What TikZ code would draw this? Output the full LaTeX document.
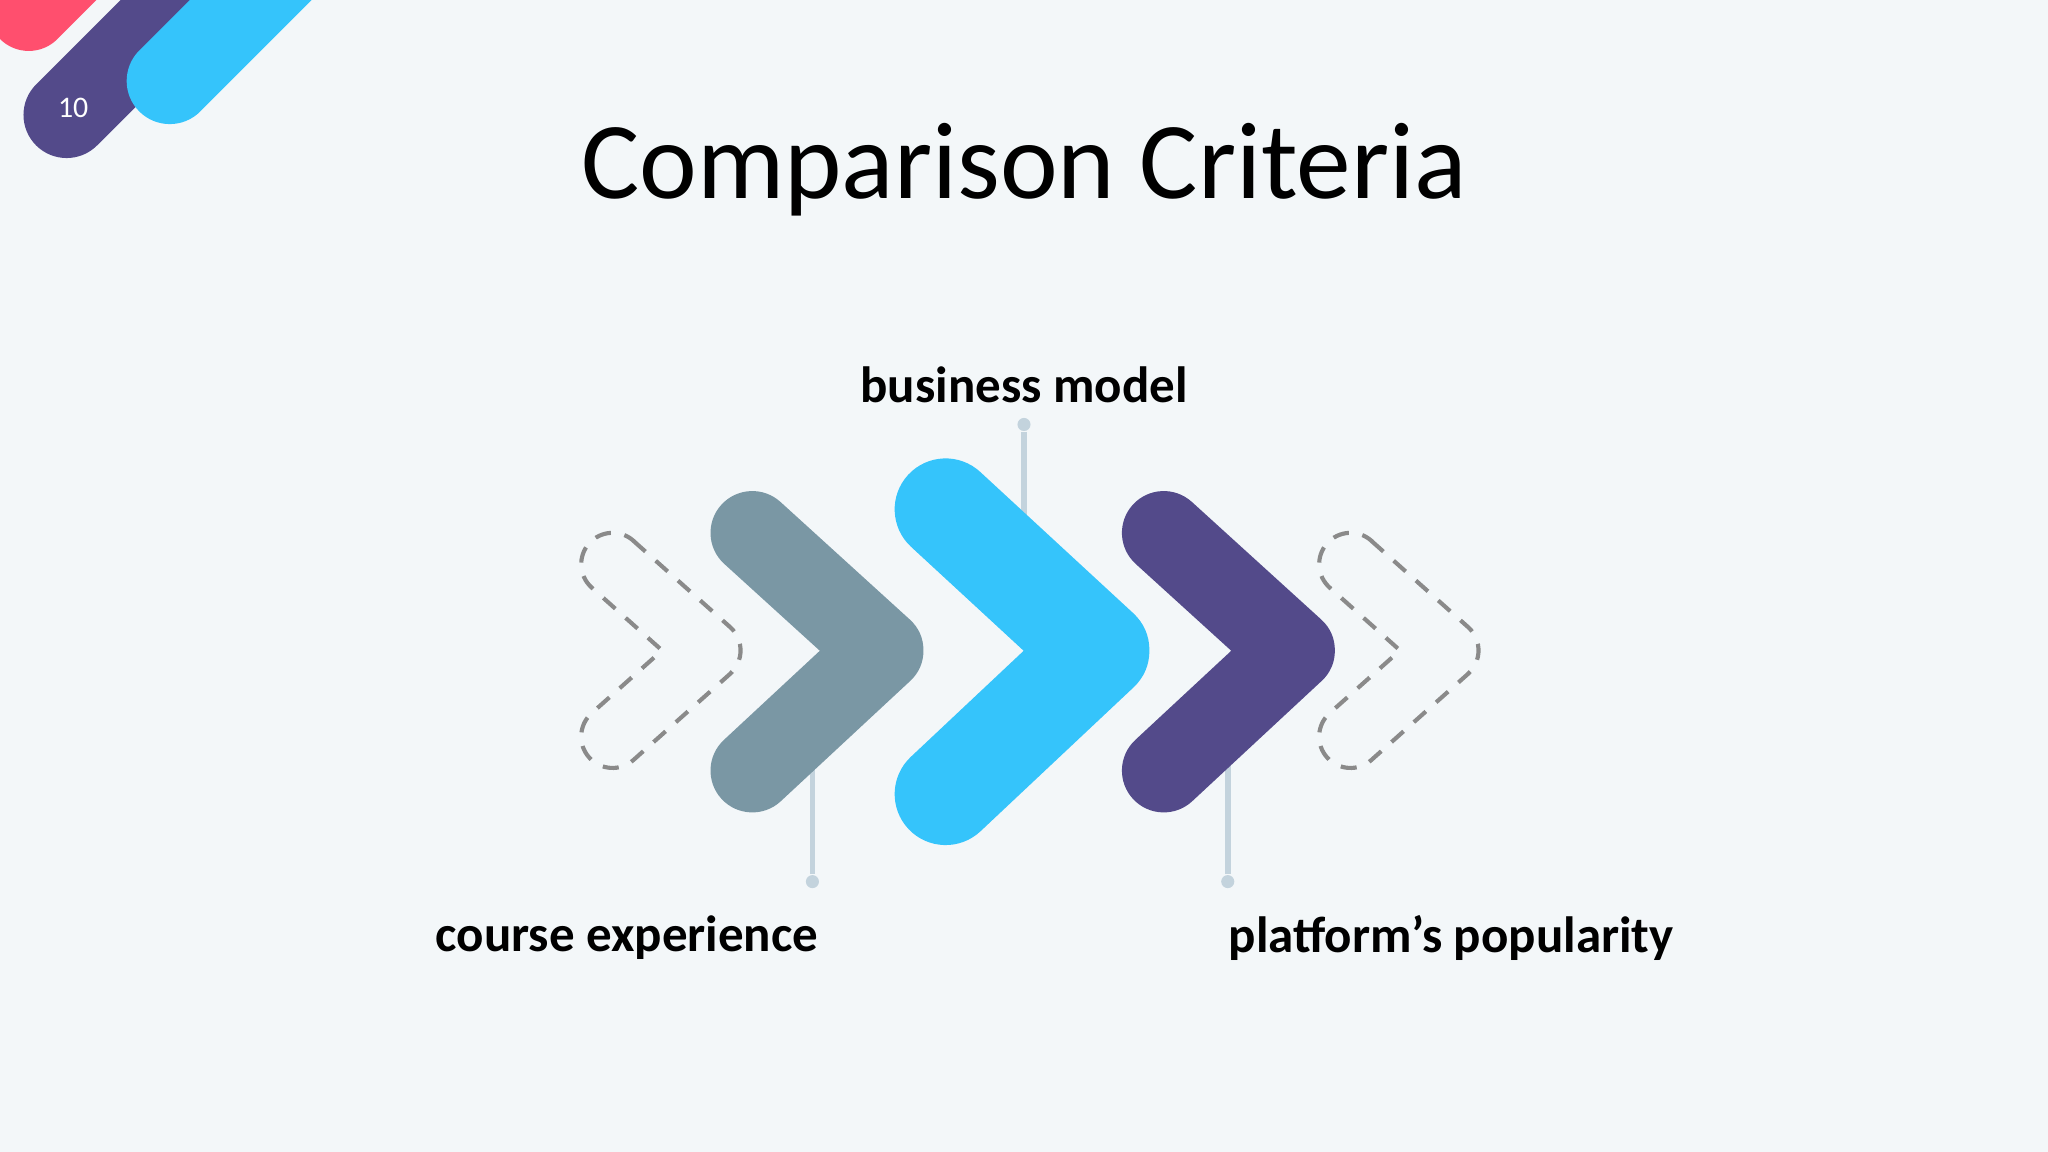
\documentclass[tikz,border=0pt]{standalone}
\usepackage{fontspec}
\setmainfont{Carlito}
\definecolor{bg}{HTML}{F3F7F9}
\definecolor{cgray}{HTML}{7A97A4}
\definecolor{cblue}{HTML}{35C4FB}
\definecolor{cpurple}{HTML}{534A8A}
\definecolor{cred}{HTML}{FF4F6E}
\definecolor{cline}{HTML}{C3D3DD}
\definecolor{cdash}{HTML}{8A8A8A}
\begin{document}
\begin{tikzpicture}[x=0.01cm,y=0.01cm,
  chev/.style={line cap=round,line join=round},
  lbl/.style={font=\fontsize{11.1pt}{13pt}\selectfont\bfseries,text=black},
  conn/.style={draw=cline,line width=1.2pt},
  dotc/.style={circle,fill=cline,inner sep=0pt,minimum size=0.1cm},
  dashchev/.style={draw=cdash,line width=0.9pt,dash pattern=on 3.5pt off 3pt}]
\fill[bg] (0,0) rectangle (1568,882);
\useasboundingbox (0,0) rectangle (1568,882);
\clip (0,0) rectangle (1568,882);
% decoration
\draw[chev,cred,line width=0.62cm] (22,874) -- (130,982);
\draw[chev,cpurple,line width=0.66cm] (51,794) -- (230,973);
\draw[chev,cblue,line width=0.66cm] (130,820) -- (270,960);
\node[text=white,font=\fontsize{6.5pt}{7pt}\selectfont] (pnum) at (56,799) {10};
% title
\node[font=\fontsize{23.8pt}{28pt}\selectfont] (title) at (784,752) {Comparison Criteria};
% connectors
\node[dotc] (d1) at (784,557) {};
\coordinate (e1) at (784,470);
\draw[conn] (d1) -- (e1);
\node[dotc] (d2) at (622,207) {};
\coordinate (e2) at (622,310);
\draw[conn] (d2) -- (e2);
\node[dotc] (d3) at (940,207) {};
\coordinate (e3) at (940,310);
\draw[conn] (d3) -- (e3);
% labels
\node[lbl] (l1) at (784,587) {business model};
\node[lbl] (l2) at (480,164) {course experience};
\node[lbl] (l3) at (1111,164) {platform’s popularity};
% chevrons
\draw[chev,cgray,line width=0.64cm] (576,474) -- (675,384) -- (576,292);
\draw[chev,cblue,line width=0.78cm] (724,492) -- (841,384) -- (724,274);
\draw[chev,cpurple,line width=0.64cm] (891,474) -- (990,384) -- (891,292);
% dashed outlines
\foreach \ax in {543,1108}{
\begin{scope}[shift={(\ax,384)}]
\draw[dashchev] (-58.04,83.9) -- (15.96,17.9)
  arc[start angle=48.3,end angle=-48.3,radius=0.24cm]
  -- (-58.04,-83.9)
  arc[start angle=-48.3,end angle=-228.3,radius=0.24cm]
  -- (-36.1,0) -- (-89.96,48.1)
  arc[start angle=228.3,end angle=48.3,radius=0.24cm] -- cycle;
\end{scope}}
\end{tikzpicture}
\end{document}
